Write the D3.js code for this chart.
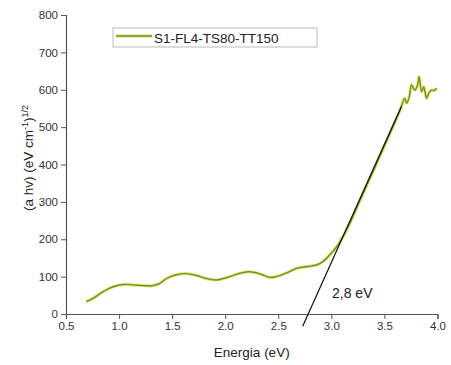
<!DOCTYPE html>
<html><head><meta charset="utf-8">
<script src="https://cdn.jsdelivr.net/npm/d3@7"></script>
<style>body{margin:0;background:#fff}svg{display:block}text{font-family:"Liberation Sans",Arial,sans-serif}</style>
</head><body><svg id="c" width="451" height="365"></svg>
<script>
const energy = [0.69,0.755,0.85,0.944,1.038,1.13,1.226,1.32,1.384,1.447,1.54,1.635,1.73,1.82,1.918,2.01,2.14,2.23,2.33,2.42,2.48,2.58,2.67,2.77,2.86,2.92,2.985,3.05,3.08,3.17,3.26,3.36,3.45,3.55,3.64,3.66,3.69,3.71,3.735,3.755,3.786,3.81,3.827,3.85,3.87,3.897,3.92,3.944,3.97,3.99];
const signal = [33,42,60,73,79,78,76,76,82,95,105,108,103,95,91,97,109,113,107,98,100,110,122,127,131,140,158,180,193,240,298,361,418,482,540,555,577,564,583,613,599,610,635,595,608,577,592,599,598,604];
const tangentX = [2.73,3.66];
const tangentY = [-33,555];
const xTicks = [0.5,1.0,1.5,2.0,2.5,3.0,3.5,4.0];
const yTicks = [0,100,200,300,400,500,600,700,800];
const seriesName = "S1-FL4-TS80-TT150";
const gapLabel = "2,8 eV";

const svg = d3.select("#c");
const L=66, R=437.5, T=15, B=314;
const x = d3.scaleLinear().domain([0.5,4.0]).range([L,R]);
const y = d3.scaleLinear().domain([0,800]).range([B,T]);
const axisCol = "#555";

const gx = svg.append("g").attr("transform",`translate(0,${B})`);
gx.call(d3.axisBottom(x).tickValues(d3.range(0.75,4.0,0.5)).tickSize(3).tickFormat(""));
gx.call(d3.axisBottom(x).tickValues(xTicks).tickSize(5).tickPadding(3).tickFormat(d3.format(".1f")));
const gy = svg.append("g").attr("transform",`translate(${L},0)`);
gy.call(d3.axisLeft(y).tickValues(d3.range(50,800,100)).tickSize(3).tickFormat(""));
gy.call(d3.axisLeft(y).tickValues(yTicks).tickSize(5).tickPadding(3));
svg.selectAll(".domain").attr("stroke",axisCol).attr("stroke-width",1.2);
svg.selectAll(".tick line").attr("stroke",axisCol);
svg.selectAll(".tick text").attr("fill","#333").style("font-size","11.5px").style("font-family","Liberation Sans, Arial, sans-serif");

const pts = energy.map((e,i)=>[e,signal[i]]);
const line = d3.line().x(d=>x(d[0])).y(d=>y(d[1])).curve(d3.curveCatmullRom.alpha(0.5));
svg.append("path").datum(pts).attr("d",line).attr("fill","none").attr("stroke","#d6dc4a").attr("stroke-width",3.2).attr("opacity",0.7);
svg.append("path").datum(pts).attr("d",line).attr("fill","none").attr("stroke","#7d8c1e").attr("stroke-width",1.4);
svg.append("line").attr("x1",x(tangentX[0])).attr("y1",y(tangentY[0])).attr("x2",x(tangentX[1])).attr("y2",y(tangentY[1]))
  .attr("stroke","#111").attr("stroke-width",1.2);

svg.append("rect").attr("x",113).attr("y",28).attr("width",204).attr("height",19).attr("fill","#fff").attr("stroke","#bbb");
svg.append("line").attr("x1",116).attr("x2",152).attr("y1",36).attr("y2",36).attr("stroke","#9aa52a").attr("stroke-width",2.5);
svg.append("text").attr("x",154).attr("y",42.5).text(seriesName).style("font-size","13.5px").attr("fill","#222");

svg.append("text").attr("x",332).attr("y",298).text(gapLabel).style("font-size","14px").attr("fill","#222");

svg.append("text").attr("x",(L+R)/2).attr("y",357).attr("text-anchor","middle").text("Energia (eV)").style("font-size","13.5px").attr("fill","#222");
const yt = svg.append("text").attr("transform",`translate(33,158) rotate(-90)`).attr("text-anchor","middle").style("font-size","13.5px").attr("fill","#222");
yt.append("tspan").text("(a hv) (eV cm");
yt.append("tspan").text("-1").attr("dy",-5).style("font-size","9px");
yt.append("tspan").text(")").attr("dy",5);
yt.append("tspan").text("1/2").attr("dy",-5).style("font-size","9px");
</script></body></html>
